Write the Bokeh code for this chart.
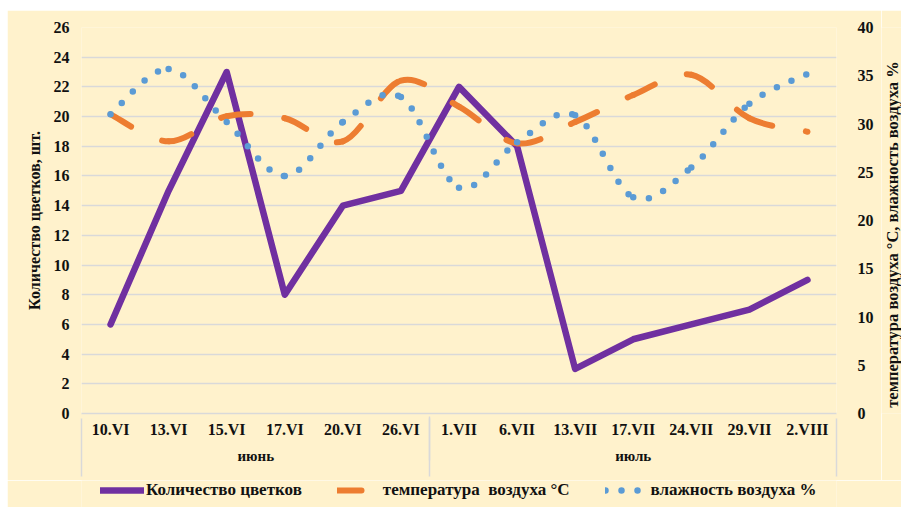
import math
from bokeh.plotting import figure
from bokeh.layouts import column, row
from bokeh.models import (FactorRange, Range1d, LinearAxis, SingleIntervalTicker,
                          FixedTicker, Legend, LegendItem, ColumnDataSource, Label)
from bokeh.embed import file_html
from bokeh.resources import INLINE

# ---- data ----
months = ["июнь"] * 6 + ["июль"] * 7
dates = ["10.VI", "13.VI", "15.VI", "17.VI", "20.VI", "26.VI",
         "1.VII", "6.VII", "13.VII", "17.VII", "24.VII", "29.VII", "2.VIII"]
flowers = [6, 15, 23, 8, 14, 15, 22, 18, 3, 5, 6, 7, 9]
temperature = [31.0, 28.2, 30.8, 30.6, 28.2, 34.5, 31.8, 28.0, 30.2, 33.0, 35.1, 30.6, 29.2]
humidity = [31.0, 35.7, 30.2, 24.6, 30.2, 32.8, 23.4, 28.1, 30.9, 22.4, 25.5, 32.1, 35.2]

series_names = ["Количество цветков", "температура  воздуха °С", "влажность воздуха %"]
left_title = "Количество цветков, шт."
right_title = "температура  воздуха °С, влажность воздуха %"
left_ticks_step = 2
right_ticks_step = 5

FONT = "Liberation Serif"
BG = "#FFF2CC"
GRID = "#D9D9D9"
TXT = "#111111"
C_FLOW = "#7030A0"
C_TEMP = "#ED7D31"
C_HUM = "#5B9BD5"
STYLE_FLOW = dict(line_color=C_FLOW, line_width=6.5, line_join="round", line_cap="round")
STYLE_TEMP = dict(line_color=C_TEMP, line_width=6, line_dash="24 34", line_cap="round")
STYLE_HUM = dict(line_color=C_HUM, line_width=6.5, line_dash="0 16", line_cap="round")

factors = list(zip(months, dates))
x_range = FactorRange(*factors, factor_padding=0, group_padding=0,
                      subgroup_padding=0, range_padding=0)

# boundaries of the month groups (synthetic factor coordinates)
n_june = months.count("июнь")
group_edges = [0, n_june, len(factors)]

W_MAIN, W_RT = 874, 20
H1, H2 = 470, 27
BL, BR, BT, BB = 74, 45, 17, 67

p = figure(x_range=x_range, y_range=Range1d(0, 26), width=W_MAIN, height=H1,
           output_backend="svg", toolbar_location=None,
           min_border_left=BL, min_border_right=BR, min_border_top=BT,
           min_border_bottom=BB)
p.background_fill_color = BG
p.border_fill_color = BG
p.outline_line_color = None
p.extra_y_ranges = {"right": Range1d(0, 40)}

# grid
p.xgrid.grid_line_color = None
p.ygrid.grid_line_color = GRID
p.ygrid.grid_line_width = 1.3

# left axis
ya = p.yaxis[0]
ya.ticker = SingleIntervalTicker(interval=left_ticks_step)
ya.axis_line_color = None
ya.major_tick_line_color = None
ya.minor_tick_line_color = None
ya.major_tick_out = 0
ya.major_tick_in = 0
ya.minor_tick_out = 0
ya.major_label_standoff = 12
ya.major_label_text_font = FONT
ya.major_label_text_font_style = "bold"
ya.major_label_text_font_size = "16px"
ya.major_label_text_color = TXT
ya.axis_label = left_title
ya.axis_label_text_font = FONT
ya.axis_label_text_font_style = "bold"
ya.axis_label_text_font_size = "16px"
ya.axis_label_text_color = TXT
ya.axis_label_standoff = 8

# right axis
ra = LinearAxis(y_range_name="right", ticker=SingleIntervalTicker(interval=right_ticks_step))
ra.axis_line_color = None
ra.major_tick_line_color = None
ra.minor_tick_line_color = None
ra.major_tick_out = 0
ra.major_tick_in = 0
ra.minor_tick_out = 0
ra.major_label_standoff = 21
ra.major_label_text_font = FONT
ra.major_label_text_font_style = "bold"
ra.major_label_text_font_size = "16px"
ra.major_label_text_color = TXT
p.add_layout(ra, "right")

# x axis
xa = p.xaxis[0]
xa.axis_line_color = GRID
xa.axis_line_width = 1.5
xa.major_tick_line_color = None
xa.minor_tick_line_color = None
xa.major_tick_out = 0
xa.major_tick_in = 0
xa.major_label_standoff = 7
xa.major_label_text_font = FONT
xa.major_label_text_font_style = "bold"
xa.major_label_text_font_size = "16px"
xa.major_label_text_color = TXT
xa.group_text_font = FONT
xa.group_text_font_style = "bold"
xa.group_text_font_size = "15px"
xa.group_text_color = TXT
xa.separator_line_color = GRID
xa.separator_line_width = 1.5

# group separator lines (at both ends and between the months), drawn as ticks
sep = LinearAxis(ticker=FixedTicker(ticks=group_edges, minor_ticks=[]))
sep.axis_line_color = None
sep.major_tick_line_color = GRID
sep.major_tick_line_width = 1.5
sep.major_tick_in = 48
sep.major_tick_out = 10
sep.minor_tick_line_color = None
sep.minor_tick_in = 0
sep.minor_tick_out = 0
sep.major_label_standoff = 0
sep.major_label_text_font_size = "1px"
sep.major_label_text_color = None
p.add_layout(sep, "below")


def bezier_source(vals):
    n = len(vals)
    xs = [i + 0.5 for i in range(n)]   # synthetic coordinates of the factors
    d = dict(x0=[], y0=[], x1=[], y1=[], cx0=[], cy0=[], cx1=[], cy1=[])
    for i in range(n - 1):
        xm, ym = (xs[i - 1], vals[i - 1]) if i > 0 else (xs[i], vals[i])
        xp, yp = (xs[i + 2], vals[i + 2]) if i + 2 < n else (xs[i + 1], vals[i + 1])
        d["x0"].append(xs[i]); d["y0"].append(vals[i])
        d["x1"].append(xs[i + 1]); d["y1"].append(vals[i + 1])
        d["cx0"].append(xs[i] + (xs[i + 1] - xm) / 6)
        d["cy0"].append(vals[i] + (vals[i + 1] - ym) / 6)
        d["cx1"].append(xs[i + 1] - (xp - xs[i]) / 6)
        d["cy1"].append(vals[i + 1] - (yp - vals[i]) / 6)
    return ColumnDataSource(d)


BZ = dict(x0="x0", y0="y0", x1="x1", y1="y1", cx0="cx0", cy0="cy0", cx1="cx1", cy1="cy1")
p.line(x=factors, y=flowers, **STYLE_FLOW)
p.bezier(source=bezier_source(temperature), y_range_name="right", **BZ, **STYLE_TEMP)
p.bezier(source=bezier_source(humidity), y_range_name="right", **BZ, **STYLE_HUM)

# ---- right title strip ----
p3 = figure(width=W_RT, height=H1, x_range=Range1d(0, 1), y_range=Range1d(0, 1),
            output_backend="svg", toolbar_location=None,
            x_axis_location=None, y_axis_location=None,
            min_border_left=0, min_border_right=0, min_border_top=BT, min_border_bottom=BB)
p3.background_fill_color = BG
p3.border_fill_color = BG
p3.outline_line_color = None
p3.grid.visible = False
p3.add_layout(Label(x=11, y=181, x_units="screen", y_units="screen", text=right_title,
                    angle=math.pi / 2, text_align="center", text_baseline="middle",
                    text_font=FONT, text_font_style="bold", text_font_size="16.5px",
                    text_color=TXT))

# ---- legend strip below ----
p2 = figure(width=W_MAIN + W_RT, height=H2, x_range=Range1d(0, 1), y_range=Range1d(0, 1),
            output_backend="svg", toolbar_location=None,
            x_axis_location=None, y_axis_location=None,
            min_border_left=BL, min_border_right=W_MAIN + W_RT - (W_MAIN - BR),
            min_border_top=0, min_border_bottom=0)
p2.background_fill_color = BG
p2.border_fill_color = BG
p2.outline_line_color = None
p2.grid.visible = False
nan = float("nan")
lr1 = p2.line(x=[nan], y=[nan], **STYLE_FLOW)
lr2 = p2.line(x=[nan], y=[nan], **STYLE_TEMP)
lr3 = p2.line(x=[nan], y=[nan], **STYLE_HUM)

legend = Legend(items=[LegendItem(label=series_names[0], renderers=[lr1]),
                       LegendItem(label=series_names[1], renderers=[lr2]),
                       LegendItem(label=series_names[2], renderers=[lr3])],
                orientation="horizontal", location=(19, 7), glyph_width=44,
                glyph_height=20, label_standoff=2, spacing=35, padding=0, margin=0,
                border_line_color=None, background_fill_alpha=0,
                label_text_font=FONT, label_text_font_style="bold",
                label_text_font_size="17px", label_text_color=TXT)
p2.add_layout(legend, "center")

layout = column(row(p, p3, spacing=0), p2, spacing=0,
                styles={"margin-left": "7px", "margin-top": "10px"})

open("out.html", "w").write(file_html(layout, INLINE))
